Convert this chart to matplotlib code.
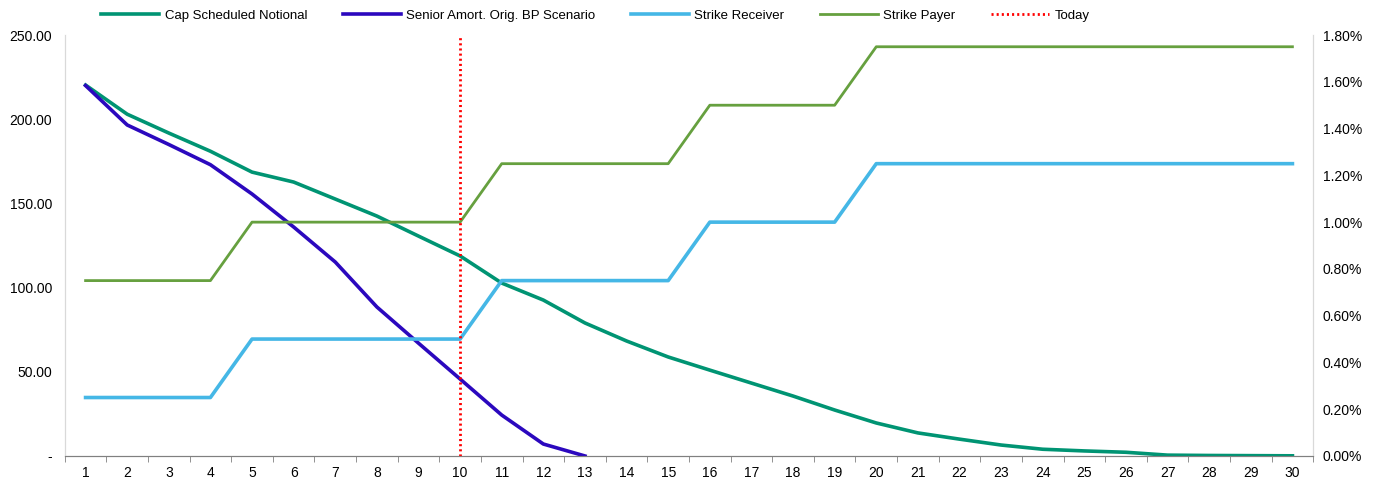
import matplotlib.pyplot as plt
from matplotlib.ticker import FuncFormatter, MultipleLocator

plt.rcParams['font.family'] = ['Liberation Sans', 'DejaVu Sans']

periods = list(range(1, 31))
cap_notional = [220.3, 203.0, 191.8, 181.0, 168.6, 162.7, 152.6, 142.5, 130.6, 118.8,
                102.7, 92.6, 79.0, 68.3, 58.8, 51.0, 43.3, 35.6, 27.3, 19.6,
                13.7, 10.0, 6.5, 4.0, 3.0, 2.2, 0.5, 0.3, 0.2, 0.1]
senior_periods = list(range(1, 14))
senior_amort = [220.0, 196.6, 185.0, 173.0, 155.6, 136.0, 115.2, 88.5, 67.0, 45.7,
                24.3, 7.1, 0.0]
strike_receiver = [0.0025] * 4 + [0.0050] * 6 + [0.0075] * 5 + [0.0100] * 4 + [0.0125] * 11
strike_payer = [0.0075] * 4 + [0.0100] * 6 + [0.0125] * 5 + [0.0150] * 4 + [0.0175] * 11
today = 10

fig = plt.figure(figsize=(13.78, 4.87), dpi=100)
ax = fig.add_axes([0.047, 0.0637, 0.906, 0.8643])
ax2 = ax.twinx()

# notional lines on the left axis
l1, = ax.plot(periods, cap_notional, color='#009473', lw=2.6, label='Cap Scheduled Notional', zorder=3)
l2, = ax.plot(senior_periods, senior_amort, color='#2B08BE', lw=2.6, label='Senior Amort. Orig. BP Scenario', zorder=3)
# strikes on the right axis
l3, = ax2.plot(periods, strike_receiver, color='#45B7E6', lw=2.6, label='Strike Receiver')
l4, = ax2.plot(periods, strike_payer, color='#66A03F', lw=2.0, label='Strike Payer')
l5 = ax2.axvline(today, color='#FF0000', ls=(0, (0.75, 1.1)), lw=2.0, label='Today')

ax.set_xlim(0.5, 30.5)
ax.set_ylim(0, 250)
ax2.set_ylim(0, 0.018)
ax.set_xticks(periods)
ax.set_xticks([p + 0.5 for p in range(0, 31)], minor=True)
ax.tick_params(axis='x', which='major', length=0, labelsize=10, pad=7)
ax.tick_params(axis='x', which='minor', length=4, color='#808080')
ax.yaxis.set_major_locator(MultipleLocator(50))
ax.yaxis.set_major_formatter(FuncFormatter(lambda v, p: '-' if v == 0 else f'{v:.2f}'))
ax2.yaxis.set_major_locator(MultipleLocator(0.002))
ax2.yaxis.set_major_formatter(FuncFormatter(lambda v, p: f'{v * 100:.2f}%'))
ax.tick_params(axis='y', length=0, labelsize=10, pad=9)
ax2.tick_params(axis='y', length=0, labelsize=10, pad=7)

for a in (ax, ax2):
    a.spines['top'].set_visible(False)
    a.spines['left'].set_color('#D9D9D9')
    a.spines['right'].set_color('#D9D9D9')
    a.spines['bottom'].set_color('#808080')

fig.legend(handles=[l1, l2, l3, l4, l5], loc='upper center', bbox_to_anchor=(0.432, 1.005),
           ncol=5, frameon=False, fontsize=9.5, handlelength=4.4, handletextpad=0.4,
           columnspacing=2.7)

fig.savefig('out.png', dpi=100)
